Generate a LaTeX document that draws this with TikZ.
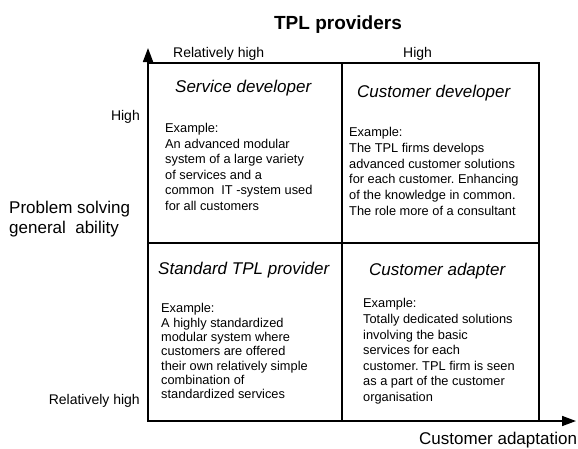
\documentclass[tikz,border=0pt]{standalone}
\usepackage{fontspec}
\setmainfont{Liberation Sans}
\usetikzlibrary{arrows.meta}
\frenchspacing
\begin{document}
\begin{tikzpicture}[x=1pt,y=-1pt,
  frame/.style={line width=1.6pt},
  cell/.style={frame, draw, anchor=north west, inner sep=0pt, outer sep=0pt},
  axis/.style={line width=1.6pt, -{Triangle[length=14pt,width=10pt]}},
  headline/.style={anchor=base, inner sep=0pt, font=\fontsize{19}{22}\selectfont\bfseries},
  tick/.style={inner sep=0pt, font=\fontsize{14}{17}\selectfont},
  axislabel/.style={inner sep=0pt, align=left, font=\fontsize{17}{20}\selectfont},
  celltitle/.style={anchor=base west, inner sep=0pt, font=\fontsize{17}{20}\selectfont\itshape},
  body/.style={anchor=north west, align=left, inner sep=0pt}]

  \useasboundingbox (0,0) rectangle (578,448);

  % heading
  \node[headline] (head) at (338,29) {TPL providers};

  % the four quadrants
  \node[cell, minimum width=194pt, minimum height=180pt] (sd) at (148,63) {};
  \node[cell, minimum width=197pt, minimum height=180pt] (cd) at (342,63) {};
  \node[cell, minimum width=194pt, minimum height=178pt] (st) at (148,243) {};
  \node[cell, minimum width=197pt, minimum height=178pt] (ca) at (342,243) {};

  % axes
  \coordinate (origin) at (148,421);
  \coordinate (ytip) at (148,48);
  \coordinate (xtip) at (576,421);
  \draw[axis] (origin) -- (ytip);
  \draw[axis] (origin) -- (xtip);

  % axis labels
  \node[tick, anchor=base west] (xlow) at (173,57.3) {Relatively high};
  \node[tick, anchor=base west] (xhigh) at (403,57.3) {High};
  \node[tick, anchor=base east] (yhigh) at (140,120) {High};
  \node[tick, anchor=base east] (ylow) at (140,404) {Relatively high};
  \node[axislabel, anchor=north west] (ylabel) at (9,201) {Problem solving\\general\ \ ability};
  \node[axislabel, anchor=base west] (xlabel) at (419,444) {Customer adaptation};

  % quadrant titles
  \node[celltitle] (sdt) at (175,92.3) {Service developer};
  \node[celltitle] (cdt) at (357,97.7) {Customer developer};
  \node[celltitle] (stt) at (158,274.3) {Standard TPL provider};
  \node[celltitle] (cat) at (369,275) {Customer adapter};

  % quadrant examples
  \node[body, font=\fontsize{12.8}{15.5}\selectfont] (sdb) at (165,123.4)
    {Example:\\An advanced modular\\system of a large variety\\of services and a\\common\ \ IT -system used\\for all customers};
  \node[body, font=\fontsize{12.8}{15.7}\selectfont] (cdb) at (349,127.4)
    {Example:\\The TPL firms develops\\advanced customer solutions\\for each customer. Enhancing\\of the knowledge in common.\\The role more of a consultant};
  \node[body, font=\fontsize{12.8}{14.3}\selectfont] (stb) at (161,303.4)
    {Example:\\A highly standardized\\modular system where\\customers are offered\\their own relatively simple\\combination of\\standardized services};
  \node[body, font=\fontsize{12.8}{15.6}\selectfont] (cab) at (363,298.4)
    {Example:\\Totally dedicated solutions\\involving the basic\\services for each\\customer. TPL firm is seen\\as a part of the customer\\organisation};
\end{tikzpicture}
\end{document}
